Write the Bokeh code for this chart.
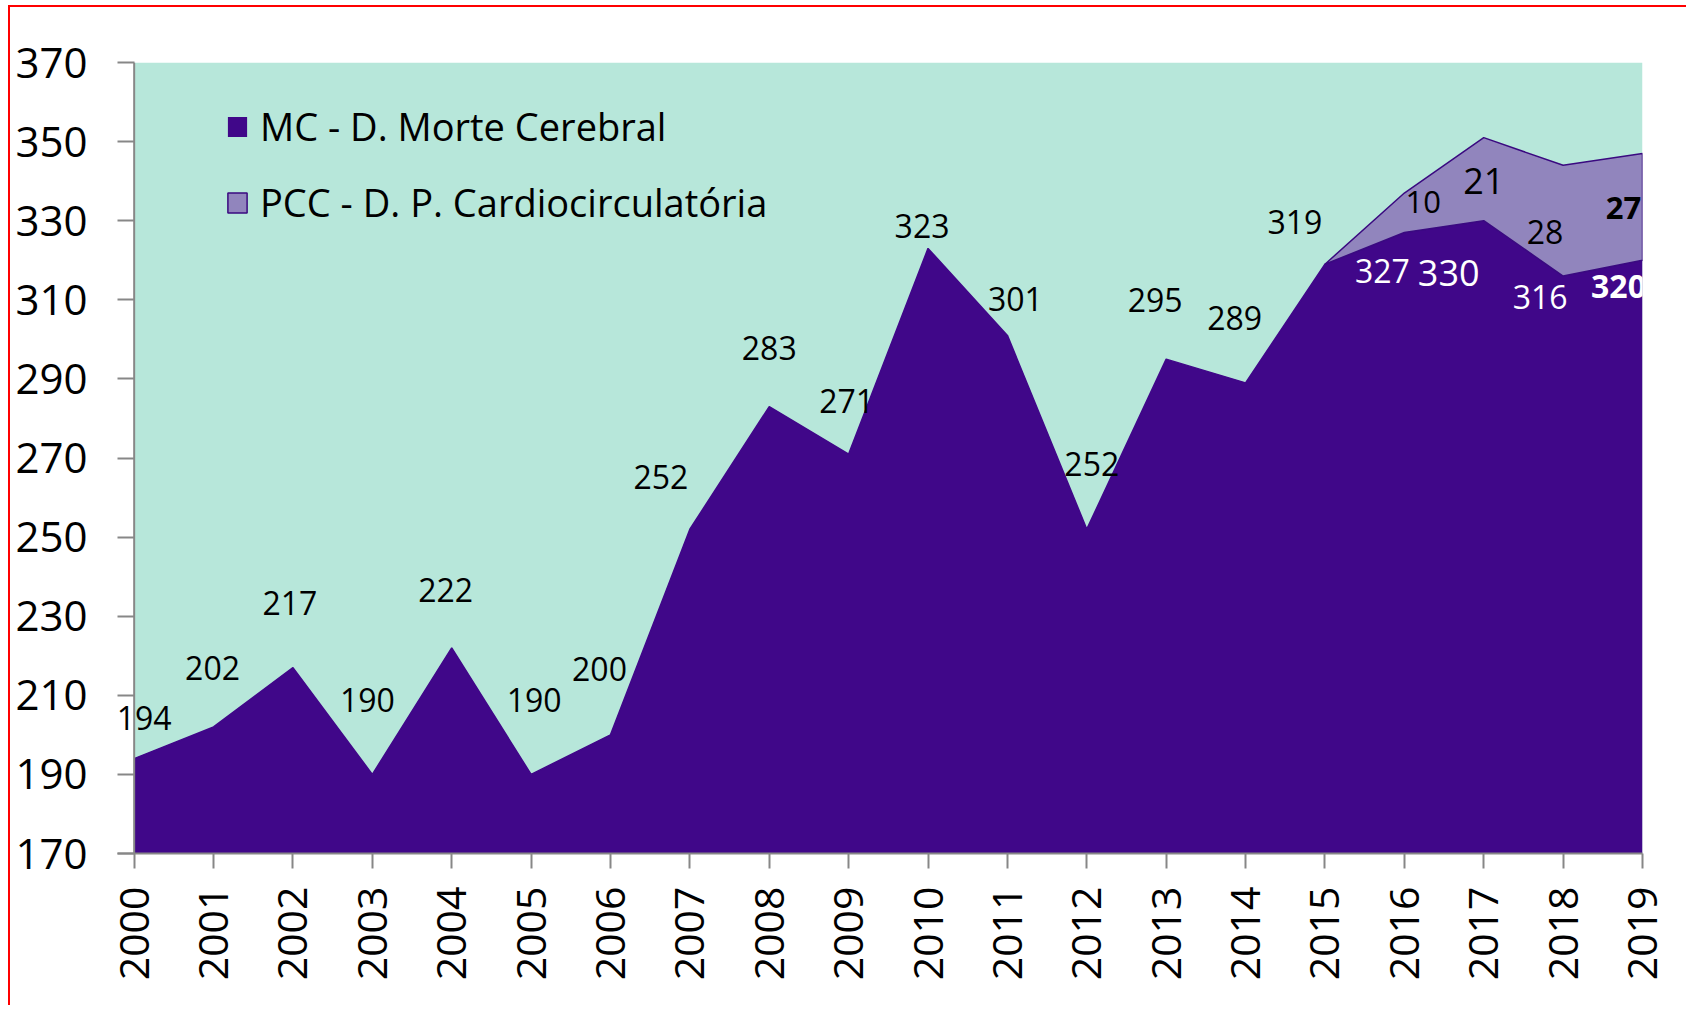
import math
from bokeh.plotting import figure
from bokeh.models import (ColumnDataSource, FixedTicker, Legend, LegendItem,
                          BoxAnnotation, Span)
from bokeh.core.properties import value
from bokeh.embed import file_html
from bokeh.resources import INLINE

# ---- data ----
years = [2000, 2001, 2002, 2003, 2004, 2005, 2006, 2007, 2008, 2009,
         2010, 2011, 2012, 2013, 2014, 2015, 2016, 2017, 2018, 2019]
mc = [194, 202, 217, 190, 222, 190, 200, 252, 283, 271,
      323, 301, 252, 295, 289, 319, 327, 330, 316, 320]
pcc_years = [2015, 2016, 2017, 2018, 2019]
pcc = [0, 10, 21, 28, 27]
y_ticks = [170, 190, 210, 230, 250, 270, 290, 310, 330, 350, 370]
series_names = ["MC - D. Morte Cerebral", "PCC - D. P. Cardiocirculatória"]

# ---- label placement / styling (screen px) ----
mc_dx = [10, -1, -3, -5, -6, 3, -11, -29, 0, -2, -6, 8, 5, -11, -11, -30, -22, -35, -23, -24]
mc_dy = [-41, -59, -65, -74, -58, -74, -66, -52, -59, -53, -22, -36, -65, -59, -65, -42, 38, 52, 21, 26]
mc_col = ["black"] * 16 + ["white"] * 4
mc_size = ["32px"] * 20
mc_size[17] = "36px"
mc_style = ["normal"] * 19 + ["bold"]
pcc_dx = [19, 0, -18, -19]
pcc_dy = [9, 43, 67, 55]
pcc_size = ["31px", "36px", "32px", "31px"]
pcc_style = ["normal", "normal", "normal", "bold"]

MC_COLOR = "#400789"
PCC_COLOR = "#9185BD"
BG = "#B7E7DA"
AXIS = "#878787"
FONT = "Open Sans"

# plot frame starts a little left of 2000 so the first data label is not clipped;
# the coloured plot area itself spans 2000..2019
p = figure(width=1678, height=1000, output_backend="svg", toolbar_location=None,
           x_range=(1999.79, 2019), y_range=(170, 370),
           min_border_left=107, min_border_right=46, min_border_top=55, min_border_bottom=154)
p.styles = {"border-left": "2px solid #FF0000", "border-top": "2px solid #FF0000",
            "margin-left": "8px", "margin-top": "5px"}
p.background_fill_color = "white"
p.border_fill_color = "white"
p.outline_line_color = None
p.xgrid.grid_line_color = None
p.ygrid.grid_line_color = None

p.add_layout(BoxAnnotation(left=years[0], right=years[-1], fill_color=BG, fill_alpha=1,
                           line_color=None, level="underlay"))

# MC area
mc_src = ColumnDataSource(dict(x=years, y=mc))
r_mc = p.varea(x="x", y1=0, y2="y", source=mc_src, fill_color=MC_COLOR)
p.line(x="x", y="y", source=mc_src, line_color=MC_COLOR, line_width=1.5)

# PCC stacked area (on top of MC)
mc_by_year = dict(zip(years, mc))
bottoms = [mc_by_year[y] for y in pcc_years]
tops = [b + v for b, v in zip(bottoms, pcc)]
patch_x = pcc_years + pcc_years[::-1]
patch_y = tops + bottoms[::-1]
r_pcc = p.patch(x=patch_x, y=patch_y, fill_color=PCC_COLOR, line_color="#3A0A80", line_width=1.5)

# vertical axis line at the start of the plot area
p.add_layout(Span(location=years[0], dimension="height", line_color=AXIS, line_width=2))

# data labels
lab_mc = ColumnDataSource(dict(x=years, y=mc, t=[str(v) for v in mc], dx=mc_dx, dy=mc_dy,
                               c=mc_col, s=mc_size, st=mc_style))
p.text(x="x", y="y", text="t", x_offset="dx", y_offset="dy", text_color="c",
       text_font_size="s", text_font_style="st", text_font=value(FONT),
       text_align="center", text_baseline="middle", source=lab_mc)
lab_pcc = ColumnDataSource(dict(x=pcc_years[1:], y=tops[1:], t=[str(v) for v in pcc[1:]],
                                dx=pcc_dx, dy=pcc_dy, s=pcc_size, st=pcc_style))
p.text(x="x", y="y", text="t", x_offset="dx", y_offset="dy", text_color="black",
       text_font_size="s", text_font_style="st", text_font=value(FONT),
       text_align="center", text_baseline="middle", source=lab_pcc)

# axes
for ax in (p.xaxis, p.yaxis):
    ax.major_tick_line_color = AXIS
    ax.major_tick_line_width = 2
    ax.minor_tick_line_color = None
    ax.major_label_text_font = FONT
    ax.major_label_text_color = "black"
p.xaxis.axis_line_color = AXIS
p.xaxis.axis_line_width = 2
p.xaxis.major_tick_in = 0
p.xaxis.major_tick_out = 15
p.yaxis.axis_line_color = None
p.yaxis.major_tick_in = 17
p.yaxis.major_tick_out = 0
p.xaxis.ticker = FixedTicker(ticks=years)
p.yaxis.ticker = FixedTicker(ticks=y_ticks)
p.xaxis.major_label_orientation = math.pi / 2
p.xaxis.major_label_text_font_size = "41px"
p.yaxis.major_label_text_font_size = "42px"
p.xaxis.major_label_standoff = 18
p.yaxis.major_label_standoff = 30

legend = Legend(items=[LegendItem(label=series_names[0], renderers=[r_mc]),
                       LegendItem(label=series_names[1], renderers=[r_pcc])],
                location=(108, 625), padding=0, margin=0, spacing=24,
                glyph_width=24, glyph_height=25, label_height=44, label_standoff=11,
                label_text_font=FONT, label_text_font_size="38px", label_text_color="black",
                border_line_color=None, background_fill_alpha=0)
p.add_layout(legend)

open("out.html", "w").write(file_html(p, INLINE))
